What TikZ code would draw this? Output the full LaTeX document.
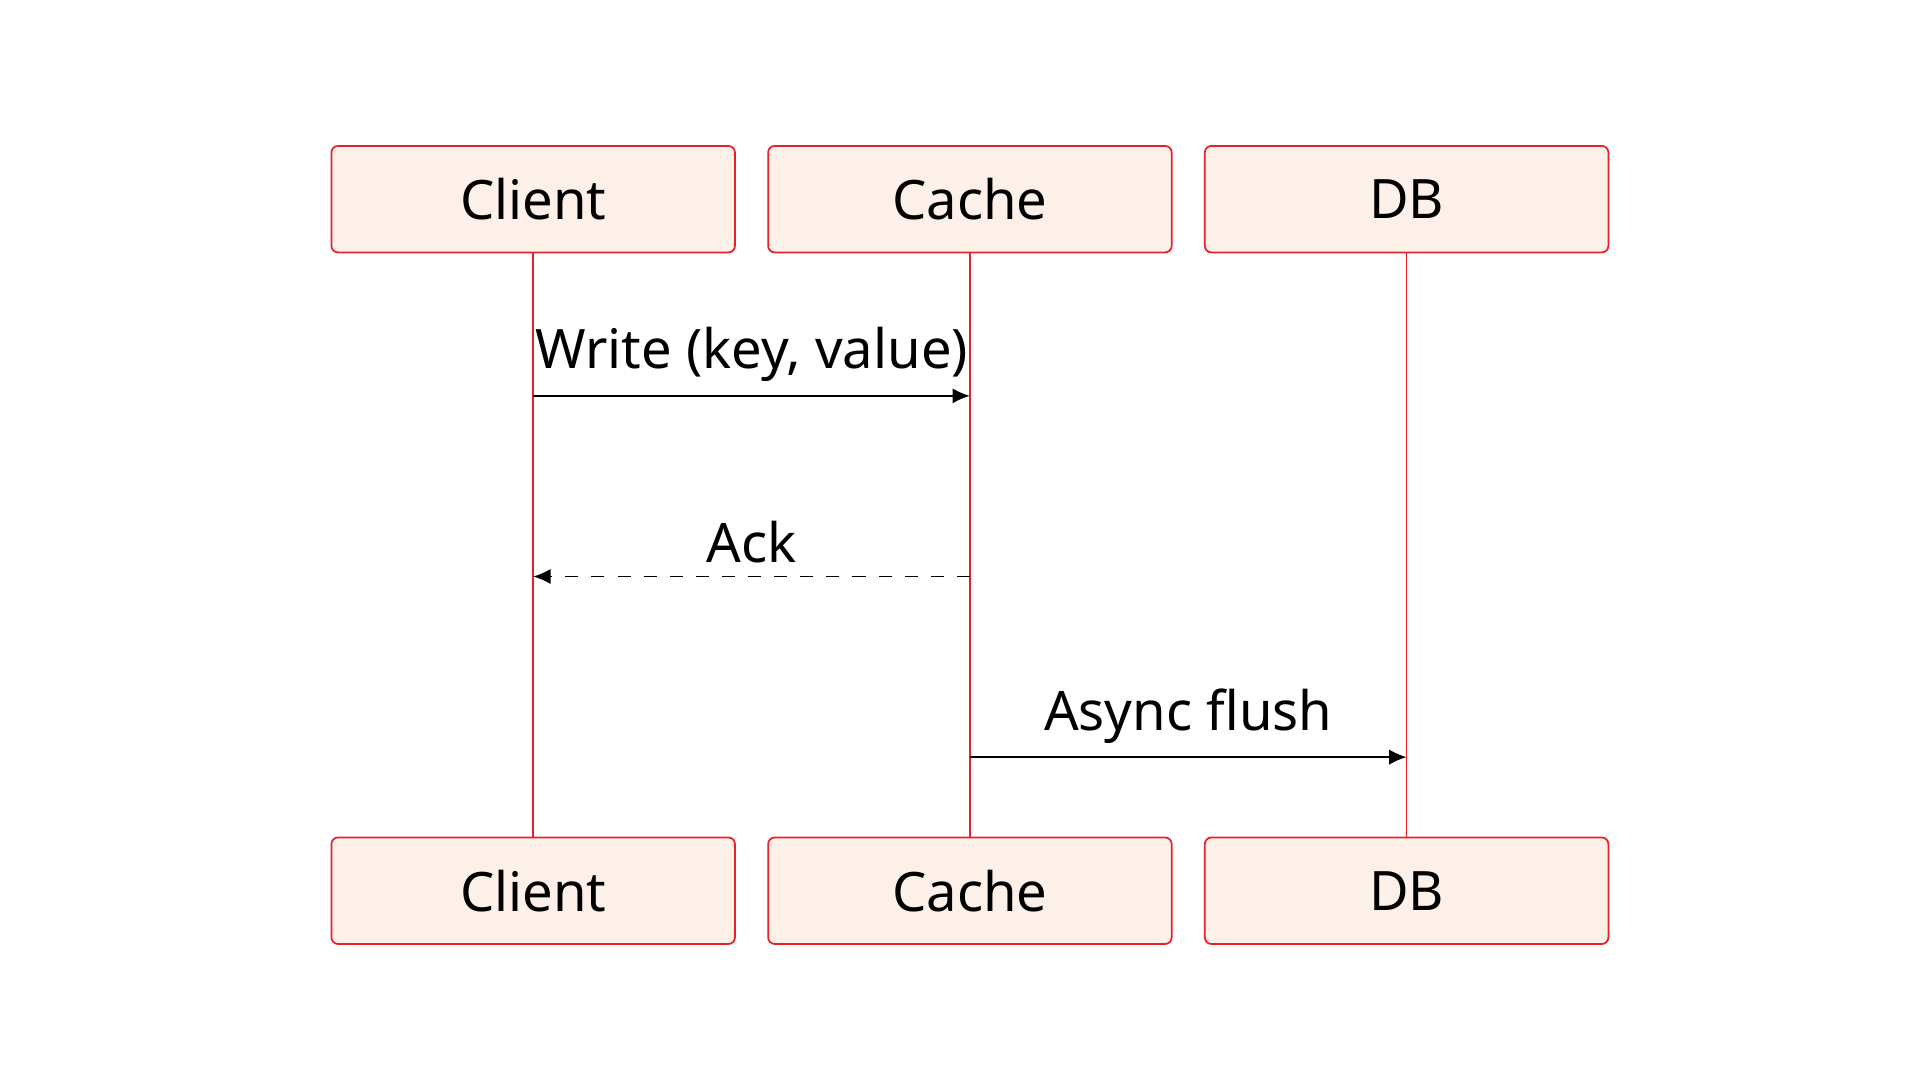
\documentclass[tikz,border=0pt]{standalone}
\usepackage{fontspec}
\setmainfont{Noto Sans}
\usetikzlibrary{arrows.meta}
\definecolor{boxfill}{HTML}{FDF0E9}
\definecolor{boxline}{HTML}{E8202A}
\begin{document}
\begin{tikzpicture}[x=0.01cm,y=-0.01cm,
  actor/.style={rectangle,draw=boxline,fill=boxfill,rounded corners=1.5pt,
                minimum width=3.26cm,minimum height=0.86cm,font=\fontsize{12.5}{14}\selectfont},
  life/.style={boxline,thin},
  msg/.style={-{Latex[length=4pt,width=3.5pt]},thin},
  reply/.style={msg,dashed},
  lbl/.style={above,font=\fontsize{12.5}{14}\selectfont,inner sep=3pt}]
\useasboundingbox (0,0) rectangle (1552,873);
\node [actor] (client) at (431,161) {Client};
\node [actor] (cache) at (784,161) {Cache};
\node [actor] (db) at (1137,161) {DB};
\node [actor] (client2) at (431,720) {Client};
\node [actor] (cache2) at (784,720) {Cache};
\node [actor] (db2) at (1137,720) {DB};
\draw [life] (client) -- (client2);
\draw [life] (cache) -- (cache2);
\draw [life] (db) -- (db2);
% messages
\coordinate (c1) at (431,320); \coordinate (k1) at (784,320);
\coordinate (c2) at (431,466); \coordinate (k2) at (784,466);
\coordinate (k3) at (784,612); \coordinate (d3) at (1137,612);
\draw [msg] (c1) -- node [lbl] {Write (key, value)} (k1);
\draw [reply] (k2) -- node [lbl] {Ack} (c2);
\draw [msg] (k3) -- node [lbl] {Async flush} (d3);
\end{tikzpicture}
\end{document}
